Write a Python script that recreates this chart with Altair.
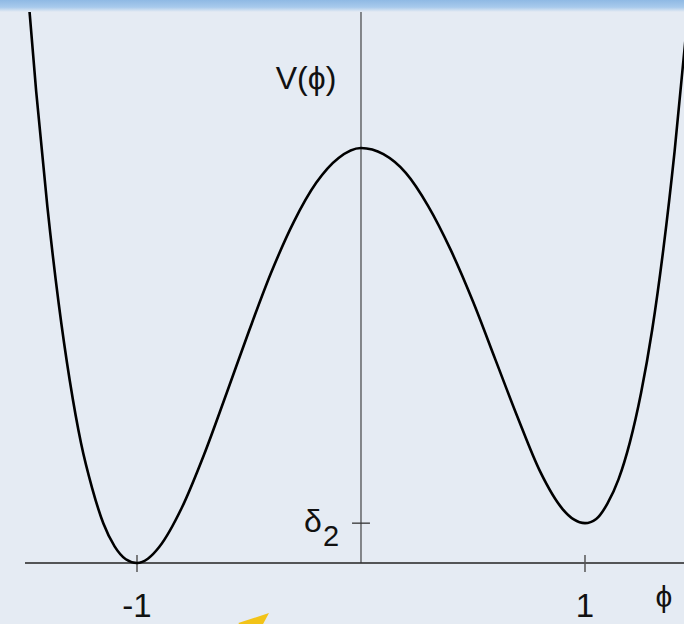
import altair as alt
import pandas as pd

# Double-well potential V(phi), sampled along the curve
phi = [-1.50, -1.45, -1.40, -1.35, -1.30, -1.25, -1.20, -1.15, -1.10, -1.05,
       -1.00, -0.95, -0.90, -0.80, -0.70, -0.60, -0.50, -0.40, -0.30, -0.20,
       -0.10, 0.00, 0.10, 0.20, 0.30, 0.40, 0.50, 0.60, 0.70, 0.80,
       0.90, 0.95, 1.00, 1.05, 1.10, 1.15, 1.20, 1.25, 1.30, 1.35,
       1.40, 1.45]
V = [1.46, 1.136, 0.858, 0.627, 0.439, 0.289, 0.180, 0.095, 0.040, 0.009,
     0.0, 0.011, 0.039, 0.133, 0.262, 0.409, 0.559, 0.701, 0.822, 0.916,
     0.976, 1.0, 0.985, 0.940, 0.860, 0.755, 0.630, 0.490, 0.350, 0.220,
     0.130, 0.105, 0.096, 0.106, 0.143, 0.202, 0.290, 0.409, 0.562, 0.757,
     0.992, 1.27]

tick_phi = [-1, 1]
tick_labels = ["-1", "1"]
delta2 = 0.096

W, H = 684, 624
x_dom = [-1.6116, 1.4420]
y_dom = [-0.147, 1.3566]

xs = alt.Scale(domain=x_dom, nice=False, zero=False)
ys = alt.Scale(domain=y_dom, nice=False, zero=False)

BG = "#e5ebf3"
FONT = "Liberation Sans"

curve_df = pd.DataFrame({"phi": phi, "V": V})
ticks_df = pd.DataFrame({"phi": tick_phi, "label": tick_labels})

curve = alt.Chart(curve_df).mark_line(
    color="black", strokeWidth=2.6, interpolate="monotone", clip=True
).encode(
    x=alt.X("phi:Q", scale=xs, axis=None),
    y=alt.Y("V:Q", scale=ys, axis=None),
)

# horizontal phi axis
h_axis = alt.Chart(pd.DataFrame({"a": [-1.5], "b": [x_dom[1]], "v": [0.0]})).mark_rule(
    color="#222222", strokeWidth=1.4
).encode(
    x=alt.X("a:Q", scale=xs, axis=None),
    x2="b:Q",
    y=alt.Y("v:Q", scale=ys, axis=None),
)

# vertical V axis
v_axis = alt.Chart(pd.DataFrame({"p": [0.0], "lo": [0.0], "hi": [y_dom[1]]})).mark_rule(
    color="#333333", strokeWidth=1.1
).encode(
    x=alt.X("p:Q", scale=xs, axis=None),
    y=alt.Y("lo:Q", scale=ys, axis=None),
    y2="hi:Q",
)

# tick marks at phi = -1, 1
phi_ticks = alt.Chart(ticks_df).transform_calculate(
    lo="-0.022", hi="0.019"
).mark_rule(color="#555555", strokeWidth=1.5).encode(
    x=alt.X("phi:Q", scale=xs, axis=None),
    y=alt.Y("lo:Q", scale=ys, axis=None),
    y2="hi:Q",
)

# tick mark at V = delta_2
d_tick = alt.Chart(pd.DataFrame({"a": [-0.04], "b": [0.04], "v": [delta2]})).mark_rule(
    color="#333333", strokeWidth=1.3
).encode(
    x=alt.X("a:Q", scale=xs, axis=None),
    x2="b:Q",
    y=alt.Y("v:Q", scale=ys, axis=None),
)

tick_text = alt.Chart(ticks_df).mark_text(
    font=FONT, fontSize=33, color="#111111", align="center", baseline="alphabetic"
).encode(
    x=alt.X("phi:Q", scale=xs, axis=None),
    y=alt.value(617),
    text="label:N",
)

def label(txt, x, y, size, align="center"):
    return alt.Chart(pd.DataFrame({"t": [txt]})).mark_text(
        font=FONT, fontSize=size, color="#111111", align=align, baseline="alphabetic"
    ).encode(x=alt.value(x), y=alt.value(y), text="t:N")

v_label = label("V(ϕ)", 306, 89, 32)
phi_label = label("ϕ", 664, 607, 30)
delta_label = label("δ", 313, 532, 32)
delta_sub = label("2", 331, 546, 29)

# blue band across the top edge
band = alt.Chart(pd.DataFrame({"k": [0]})).mark_rect(
    color=alt.LinearGradient(
        gradient="linear",
        stops=[
            alt.GradientStop(color="#8fb9e4", offset=0),
            alt.GradientStop(color="#a8caec", offset=0.6),
            alt.GradientStop(color=BG, offset=1),
        ],
        x1=0, x2=0, y1=0, y2=1,
    )
).encode(x=alt.value(0), x2=alt.value(W), y=alt.value(0), y2=alt.value(12))

# yellow arrowhead at the bottom edge
arrow = alt.Chart(pd.DataFrame({"k": [0]})).mark_point(
    shape="M0,-1L0.8,1L-0.8,1Z", filled=True, color="#f2c318", opacity=1,
    size=900, angle=50, clip=True
).encode(x=alt.value(257.5), y=alt.value(622.6))

chart = alt.layer(
    h_axis, v_axis, phi_ticks, d_tick, curve, tick_text,
    v_label, phi_label, delta_label, delta_sub, arrow, band
).properties(
    width=W, height=H, padding=0, background=BG,
    autosize=alt.AutoSizeParams(type="none"),
).configure_view(stroke=None)

chart.save("out.html", embed_options={"renderer": "svg", "actions": False})
